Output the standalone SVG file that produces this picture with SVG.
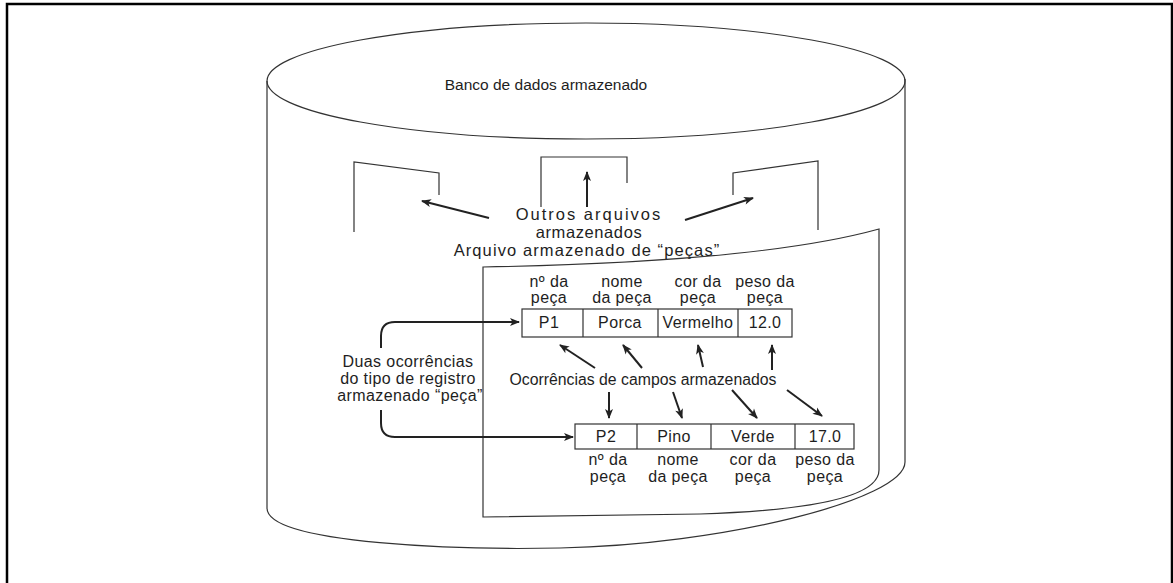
<svg xmlns="http://www.w3.org/2000/svg" width="1173" height="583" viewBox="0 0 1173 583">
  <style>
    .frame { fill: none; stroke: #000; stroke-width: 2.5; }
    .line { fill: none; stroke: #333; stroke-width: 1.2; }
    .arrow { fill: none; stroke: #222; stroke-width: 2; marker-end: url(#head); }
    .cell { fill: #fff; stroke: #333; stroke-width: 1.2; }
    text { font-family: "Liberation Sans", Arial, sans-serif; fill: #1e1e1e; text-anchor: middle; }
    .t15 { font-size: 15.5px; }
    .t16 { font-size: 16px; letter-spacing: 0.4px; }
    .t17 { font-size: 16.5px; }
  </style>
  <defs>
    <marker id="head" viewBox="0 0 10 10" refX="9" refY="5" markerWidth="11" markerHeight="10" markerUnits="userSpaceOnUse" orient="auto">
      <path d="M0,1 L10,5 L0,9 L2.5,5 Z" fill="#222"/>
    </marker>
  </defs>

  <rect width="1173" height="583" fill="#fff"/>
  <path class="frame" d="M7,583 V4 H1172 V583"/>

  <!-- stored database cylinder -->
  <g id="database">
    <path class="line" d="M267,81 V508 C267,545 470,550 560,548 C720,545 905,500 905,462 V79"/>
    <ellipse class="line" cx="586" cy="81" rx="319" ry="58" fill="#fff"/>
    <text class="t15" x="546" y="90">Banco de dados armazenado</text>
  </g>

  <!-- other stored files -->
  <g id="other-files">
    <path class="line" d="M354,232 V162 L439,173 V195"/>
    <path class="line" d="M541,207 V157 H627 V183"/>
    <path class="line" d="M733,195 V173 L818,161 V230"/>
    <text class="t17" x="589" y="220" letter-spacing="2">Outros arquivos</text>
    <text class="t17" x="589" y="238" letter-spacing="0.6">armazenados</text>
  </g>

  <!-- stored "peças" file -->
  <g id="parts-file">
    <path class="line" d="M483,267 Q760,262 879,229 V470 C879,495 820,510 700,514 L483,517 Z"/>
    <text class="t17" x="587" y="256" letter-spacing="1.1">Arquivo armazenado de “peças”</text>
  </g>

  <!-- record P1 -->
  <g id="record-p1">
    <rect class="cell" x="522" y="309" width="270" height="28"/>
    <path class="line" d="M583,309 V337 M658,309 V337 M738,309 V337"/>
    <text class="t16" x="549" y="328">P1</text>
    <text class="t16" x="620" y="328">Porca</text>
    <text class="t16" x="698" y="328">Vermelho</text>
    <text class="t16" x="765" y="328">12.0</text>
    <text class="t16" x="549" y="287">nº da</text>
    <text class="t16" x="549" y="303">peça</text>
    <text class="t16" x="622" y="287">nome</text>
    <text class="t16" x="622" y="303">da peça</text>
    <text class="t16" x="698" y="287">cor da</text>
    <text class="t16" x="698" y="303">peça</text>
    <text class="t16" x="765" y="287">peso da</text>
    <text class="t16" x="765" y="303">peça</text>
  </g>

  <!-- record P2 -->
  <g id="record-p2">
    <rect class="cell" x="575" y="424" width="279" height="25"/>
    <path class="line" d="M637,424 V449 M711,424 V449 M795,424 V449"/>
    <text class="t16" x="606" y="442">P2</text>
    <text class="t16" x="674" y="442">Pino</text>
    <text class="t16" x="753" y="442">Verde</text>
    <text class="t16" x="825" y="442">17.0</text>
    <text class="t16" x="608" y="465">nº da</text>
    <text class="t16" x="608" y="482">peça</text>
    <text class="t16" x="678" y="465">nome</text>
    <text class="t16" x="678" y="482">da peça</text>
    <text class="t16" x="753" y="465">cor da</text>
    <text class="t16" x="753" y="482">peça</text>
    <text class="t16" x="825" y="465">peso da</text>
    <text class="t16" x="825" y="482">peça</text>
  </g>

  <!-- field occurrences label -->
  <g id="field-occurrences">
    <text x="643" y="385" font-size="15.8">Ocorrências de campos armazenados</text>
  </g>

  <!-- record type label -->
  <g id="record-type">
    <text class="t16" x="408" y="367">Duas ocorrências</text>
    <text class="t16" x="408" y="384">do tipo de registro</text>
    <text class="t16" x="410" y="401">armazenado “peça”</text>
  </g>

  <g id="connectors">
    <path class="arrow" d="M587,207 V172"/>
    <path class="arrow" d="M489,218 L422,201"/>
    <path class="arrow" d="M685,220 L753,198"/>

    <path class="arrow" d="M595,368 L560,345"/>
    <path class="arrow" d="M642,368 L623,345"/>
    <path class="arrow" d="M703,367 L698,345"/>
    <path class="arrow" d="M772,370 V345"/>

    <path class="arrow" d="M609,392 V418"/>
    <path class="arrow" d="M673,392 L682,418"/>
    <path class="arrow" d="M732,390 L757,418"/>
    <path class="arrow" d="M787,390 L822,416"/>

    <path class="arrow" d="M381,348 V336 Q381,322 395,322 H519"/>
    <path class="arrow" d="M381,410 V423 Q381,437 395,437 H573"/>
  </g>
</svg>
